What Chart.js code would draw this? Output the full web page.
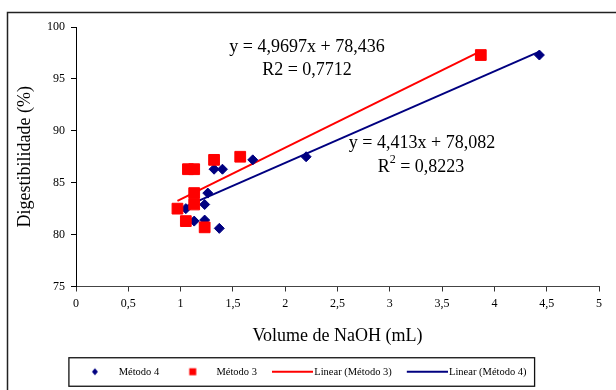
<!DOCTYPE html>
<html lang="pt-br">
<head>
<meta charset="UTF-8">
<title>Digestibilidade x Volume de NaOH</title>
<script src="https://cdn.jsdelivr.net/npm/chart.js@4.4.0/dist/chart.umd.min.js"></script>
<style>
    body { margin: 0; background: #fff; }
    #grafico { display: block; }
</style>
</head>
<body>
<canvas id="grafico" width="616" height="390"></canvas>
<script>
// dados
const xMetodo4 = [1.05, 1.13, 1.23, 1.23, 1.26, 1.37, 1.32, 1.40, 1.69, 2.20, 4.43];
const yMetodo4 = [82.5, 81.3, 81.4, 82.9, 84.0, 80.6, 86.3, 86.3, 87.2, 87.5, 97.3];
const xMetodo3 = [0.97, 1.05, 1.13, 1.13, 1.07, 1.13, 1.23, 1.32, 1.57, 3.87];
const yMetodo3 = [82.5, 81.3, 84.0, 82.9, 86.3, 86.3, 80.7, 87.2, 87.5, 97.3];

// linhas de tendência (coeficientes do Excel)
const coefMetodo3 = [4.9697, 78.436];
const r2Metodo3 = 0.7712;
const coefMetodo4 = [4.413, 78.082];
const r2Metodo4 = 0.8223;

const ticksX = [0, 0.5, 1, 1.5, 2, 2.5, 3, 3.5, 4, 4.5, 5];
const ticksY = [75, 80, 85, 90, 95, 100];

const azul = '#000080';
const vermelho = '#ff0000';
const fonte = '"Liberation Serif", "Times New Roman", serif';

Chart.defaults.font.family = fonte;
Chart.defaults.color = '#000';

function virgula(v) {
    return v.toString().replace('.', ',');
}

function pontos(xs, ys) {
    return xs.map((x, i) => ({ x: x, y: ys[i] }));
}

function tendencia(xs, coef) {
    const min = Math.min(...xs), max = Math.max(...xs);
    return [{ x: min, y: coef[0] * min + coef[1] }, { x: max, y: coef[0] * max + coef[1] }];
}

// imagens para a legenda
function imgLosango() {
    const c = document.createElement('canvas');
    c.width = 16; c.height = 10;
    const g = c.getContext('2d');
    g.fillStyle = azul;
    g.beginPath();
    g.moveTo(10, 1.5); g.lineTo(13, 5); g.lineTo(10, 8.5); g.lineTo(7, 5);
    g.closePath(); g.fill();
    return c;
}
function imgQuadrado() {
    const c = document.createElement('canvas');
    c.width = 16; c.height = 10;
    const g = c.getContext('2d');
    g.fillStyle = vermelho;
    g.fillRect(6.5, 1.5, 7, 7);
    return c;
}
function imgLinha(cor) {
    const c = document.createElement('canvas');
    c.width = 49; c.height = 4;
    const g = c.getContext('2d');
    g.strokeStyle = cor;
    g.lineWidth = 2;
    g.beginPath(); g.moveTo(8, 2); g.lineTo(49, 2); g.stroke();
    return c;
}
const imagensLegenda = [imgLosango(), imgQuadrado(), imgLinha(vermelho), imgLinha(azul)];

// moldura externa e moldura da legenda
const molduras = {
    id: 'molduras',
    beforeDraw(chart) {
        const ctx = chart.ctx;
        ctx.save();
        ctx.fillStyle = '#fff';
        ctx.fillRect(0, 0, chart.width, chart.height);
        ctx.strokeStyle = '#222';
        ctx.lineWidth = 1.5;
        ctx.strokeRect(7.5, 12.5, 700, 500);
        ctx.restore();
    },
    afterDraw(chart) {
        const caixas = chart.legend.legendHitBoxes;
        if (!caixas || !caixas.length) return;
        const primeira = caixas[0], ultima = caixas[caixas.length - 1];
        const esq = primeira.left - 3.5;
        const dir = ultima.left + ultima.width + 8;
        const meio = primeira.top + primeira.height / 2;
        const ctx = chart.ctx;
        ctx.save();
        ctx.strokeStyle = '#111';
        ctx.lineWidth = 1.3;
        ctx.strokeRect(esq, meio - 14, dir - esq, 28.5);
        ctx.restore();
    }
};

// equações das retas
const equacoes = {
    id: 'equacoes',
    afterDatasetsDraw(chart) {
        const ctx = chart.ctx;
        ctx.save();
        ctx.fillStyle = '#000';
        ctx.font = '18px ' + fonte;
        ctx.textAlign = 'center';
        ctx.textBaseline = 'middle';
        ctx.fillText('y = ' + virgula(coefMetodo3[0]) + 'x + ' + virgula(coefMetodo3[1]), 307, 47);
        ctx.fillText('R2 = ' + virgula(r2Metodo3), 307, 70);
        ctx.fillText('y = ' + virgula(coefMetodo4[0]) + 'x + ' + virgula(coefMetodo4[1]), 422, 143);

        // R² com expoente
        const resto = ' = ' + virgula(r2Metodo4);
        ctx.textAlign = 'left';
        const wR = ctx.measureText('R').width;
        const wResto = ctx.measureText(resto).width;
        ctx.font = '12px ' + fonte;
        const w2 = ctx.measureText('2').width;
        const x0 = 421 - (wR + w2 + wResto) / 2;
        ctx.font = '18px ' + fonte;
        ctx.fillText('R', x0, 167);
        ctx.fillText(resto, x0 + wR + w2, 167);
        ctx.font = '12px ' + fonte;
        ctx.fillText('2', x0 + wR, 160);
        ctx.restore();
    }
};

const ctx = document.getElementById('grafico').getContext('2d');

const grafico = new Chart(ctx, {
    type: 'scatter',
    data: {
        datasets: [{
            label: 'Método 4',
            data: pontos(xMetodo4, yMetodo4),
            pointStyle: 'rectRot',
            pointRadius: 5,
            backgroundColor: azul,
            borderColor: azul,
            borderWidth: 1,
            order: 1
        }, {
            label: 'Método 3',
            data: pontos(xMetodo3, yMetodo3),
            pointStyle: 'rect',
            pointRadius: 7.6,
            backgroundColor: vermelho,
            borderColor: vermelho,
            borderWidth: 1,
            order: 0
        }, {
            label: 'Linear (Método 3)',
            data: tendencia(xMetodo3, coefMetodo3),
            showLine: true,
            borderColor: vermelho,
            backgroundColor: vermelho,
            borderWidth: 2,
            pointRadius: 0,
            order: 2
        }, {
            label: 'Linear (Método 4)',
            data: tendencia(xMetodo4, coefMetodo4),
            showLine: true,
            borderColor: azul,
            backgroundColor: azul,
            borderWidth: 2,
            pointRadius: 0,
            order: 3
        }]
    },
    options: {
        responsive: false,
        animation: false,
        devicePixelRatio: 1,
        layout: {
            padding: { left: 0, right: 17, top: 27, bottom: 3 }
        },
        scales: {
            x: {
                type: 'linear',
                min: 0,
                max: 5,
                afterBuildTicks: (escala) => { escala.ticks = ticksX.map(v => ({ value: v })); },
                afterFit: (escala) => { escala.height = 69; },
                ticks: {
                    padding: 5,
                    font: { size: 12 },
                    maxRotation: 0,
                    autoSkip: false,
                    callback: (v) => virgula(v)
                },
                grid: { drawOnChartArea: false, drawTicks: true, tickLength: 5, color: '#333' },
                border: { display: true, color: '#444', width: 1 },
                title: {
                    display: true,
                    text: 'Volume de NaOH (mL)',
                    font: { size: 18 },
                    padding: { top: 0, bottom: 8 }
                }
            },
            y: {
                type: 'linear',
                min: 75,
                max: 100,
                afterBuildTicks: (escala) => { escala.ticks = ticksY.map(v => ({ value: v })); },
                afterFit: (escala) => { escala.width = 76; },
                ticks: {
                    padding: 6,
                    font: { size: 12 },
                    autoSkip: false
                },
                grid: { drawOnChartArea: false, drawTicks: true, tickLength: 5, color: '#000' },
                border: { display: true, color: '#000', width: 1 },
                title: {
                    display: true,
                    text: 'Digestibilidade (%)',
                    font: { size: 18 },
                    padding: { top: 14, bottom: 0 }
                }
            }
        },
        plugins: {
            tooltip: { enabled: false },
            legend: {
                position: 'bottom',
                labels: {
                    usePointStyle: true,
                    pointStyleWidth: 41,
                    padding: 11,
                    font: { size: 10.5 },
                    color: '#000',
                    sort: (a, b) => a.datasetIndex - b.datasetIndex,
                    generateLabels: (chart) => {
                        const itens = Chart.defaults.plugins.legend.labels.generateLabels(chart);
                        itens.forEach(item => { item.pointStyle = imagensLegenda[item.datasetIndex]; });
                        return itens;
                    }
                }
            }
        }
    },
    plugins: [molduras, equacoes]
});
</script>
</body>
</html>
